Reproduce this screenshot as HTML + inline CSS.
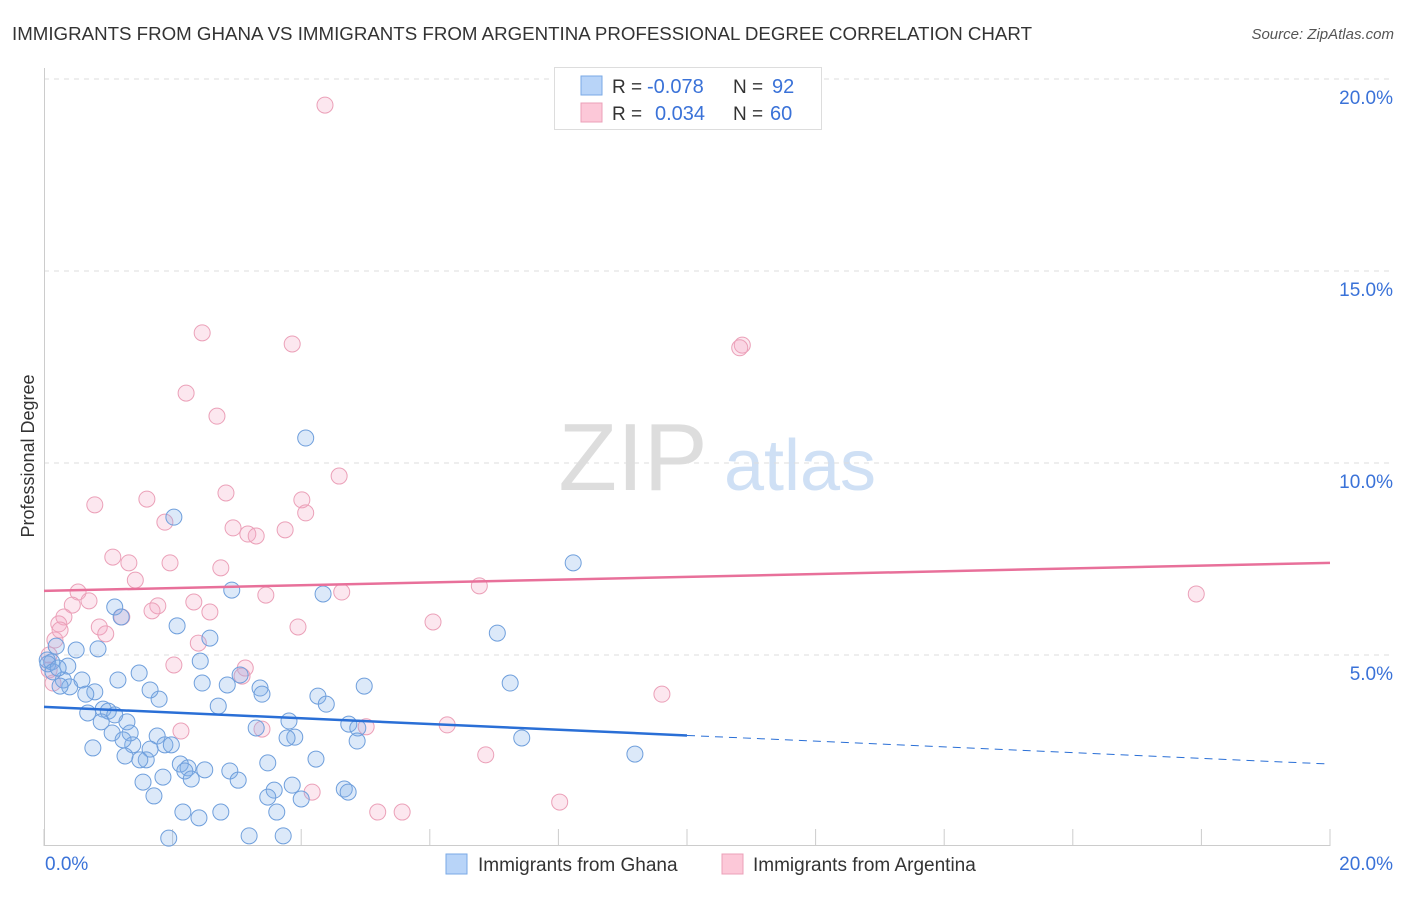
<!DOCTYPE html>
<html><head><meta charset="utf-8"><style>
body{margin:0;background:#fff;font-family:"Liberation Sans",sans-serif;}
svg text{font-family:"Liberation Sans",sans-serif;}
</style></head><body>
<svg id="chart" width="1406" height="892">
<text x="12" y="40" font-size="18" fill="#333" textLength="1020" lengthAdjust="spacingAndGlyphs">IMMIGRANTS FROM GHANA VS IMMIGRANTS FROM ARGENTINA PROFESSIONAL DEGREE CORRELATION CHART</text>
<text x="1394" y="39" font-size="15" fill="#555" font-style="italic" text-anchor="end">Source: ZipAtlas.com</text>
<g>
<text x="633" y="490" font-size="96" fill="#ddd" font-family="Liberation Serif" text-anchor="middle">ZIP</text>
<text x="800" y="490" font-size="72" fill="#cfe0f5" text-anchor="middle">atlas</text>
</g>
<g id="grid"></g>
<g id="axes"></g>
<g id="marks"></g>
<text transform="translate(34,456) rotate(-90)" font-size="18" fill="#333" text-anchor="middle">Professional Degree</text>
<g>
<rect x="554.5" y="67.5" width="267" height="62" fill="#fff" stroke="#ddd"/>
<rect x="581" y="76" width="21" height="19" fill="#b8d4f8" stroke="#7aa9e6"/>
<rect x="581" y="103" width="21" height="19" fill="#fcc8d8" stroke="#eba0b8"/>
<text x="612" y="93" font-size="19" fill="#333">R =</text>
<text x="647" y="93" font-size="20" fill="#3a72d8">-0.078</text>
<text x="733" y="93" font-size="19" fill="#333">N =</text>
<text x="772" y="93" font-size="20" fill="#3a72d8">92</text>
<text x="612" y="120" font-size="19" fill="#333">R =</text>
<text x="655" y="120" font-size="20" fill="#3a72d8">0.034</text>
<text x="733" y="120" font-size="19" fill="#333">N =</text>
<text x="770" y="120" font-size="20" fill="#3a72d8">60</text>
</g>
<g>
<rect x="446" y="854" width="21" height="20" fill="#b8d4f8" stroke="#7aa9e6"/>
<text x="478" y="871" font-size="19" fill="#333">Immigrants from Ghana</text>
<rect x="722" y="854" width="21" height="20" fill="#fcc8d8" stroke="#eba0b8"/>
<text x="753" y="871" font-size="19" fill="#333">Immigrants from Argentina</text>
</g>
</svg>
<script>
const yTicks=[5,10,15,20];
const yTickLabels=["5.0%","10.0%","15.0%","20.0%"];
const xTickVals=[0,2,4,6,8,10,12,14,16,18,20];
const xEndLabels=["0.0%","20.0%"];
const ghanaX=[4.07,2.02,8.23,2.92,4.34,1.10,1.20,2.07,7.05,2.58,0.84,0.50,0.19,0.05,0.12,0.37,2.43,1.48,3.05,1.15,0.59,0.30,0.40,0.25,2.46,2.85,7.25,4.98,3.36,3.39,4.26,4.39,0.79,0.65,1.79,2.71,0.92,0.68,1.00,1.29,0.89,3.81,4.74,4.88,1.06,1.34,3.30,1.76,3.90,3.78,4.87,1.88,1.98,1.65,1.38,0.76,1.26,7.43,9.19,4.23,1.59,2.12,3.48,2.24,2.19,2.89,1.85,2.29,3.02,1.54,3.86,3.58,4.67,4.73,1.71,3.48,4.00,2.16,2.75,2.41,3.62,1.94,3.19,3.72,0.06,0.14,0.22,1.10,2.50,1.49,1.23,1.65];
const ghanaY=[10.65,8.59,7.40,6.69,6.59,6.25,5.99,5.76,5.57,5.44,5.16,5.13,5.23,4.87,4.82,4.71,4.84,4.53,4.48,4.35,4.35,4.35,4.17,4.19,4.27,4.22,4.27,4.19,4.14,3.98,3.93,3.72,4.04,3.98,3.85,3.67,3.59,3.49,3.54,3.26,3.26,3.28,3.20,3.10,2.97,2.97,3.10,2.89,2.86,2.84,2.76,2.66,2.66,2.55,2.66,2.58,2.37,2.84,2.42,2.29,2.27,2.16,2.19,2.06,1.98,1.98,1.82,1.77,1.74,1.69,1.61,1.48,1.51,1.43,1.33,1.30,1.25,0.91,0.91,0.76,0.91,0.23,0.29,0.29,4.77,4.56,4.66,3.44,2.01,2.27,2.79,4.09];
const argX=[4.37,2.46,3.86,10.86,10.82,2.21,2.69,4.59,0.79,2.83,1.60,4.01,4.07,1.88,2.94,3.75,3.17,3.30,1.07,1.32,1.96,2.75,1.42,6.77,0.53,0.70,0.44,1.77,1.68,2.33,3.45,4.63,2.58,0.31,0.86,0.23,3.95,6.05,0.96,0.17,17.92,1.21,2.40,2.02,3.13,0.08,3.08,0.14,9.61,2.13,3.39,5.01,6.27,6.87,4.17,5.19,5.57,8.02,0.25,0.08];
const argY=[19.32,13.39,13.10,13.07,13.0,11.82,11.22,9.66,8.91,9.22,9.06,9.04,8.70,8.46,8.31,8.26,8.15,8.10,7.55,7.40,7.40,7.27,6.95,6.80,6.64,6.41,6.30,6.28,6.15,6.38,6.56,6.64,6.12,5.99,5.73,5.81,5.73,5.86,5.55,5.39,6.59,5.99,5.31,4.74,4.66,4.61,4.45,4.27,3.98,3.02,3.07,3.13,3.18,2.40,1.43,0.91,0.91,1.17,5.65,5.00];
const ghanaTrendY=[3.65,2.16];
const argTrendY=[6.67,7.40];
const trendX=[0,20];
const ghanaSolidEnd=10;

const NS="http://www.w3.org/2000/svg";
const X0=44,X1=1330,Y0=847,PX_PER=38.4;
const sx=v=>X0+(X1-X0)*v/20;
const sy=v=>Y0-v*PX_PER;
function mk(tag,attrs,parent){const e=document.createElementNS(NS,tag);for(const k in attrs)e.setAttribute(k,attrs[k]);parent.appendChild(e);return e;}
const grid=document.getElementById('grid'),axes=document.getElementById('axes'),marks=document.getElementById('marks');
yTicks.forEach((t,i)=>{
 const l=mk('line',{x1:X0,x2:1394,y1:sy(t),y2:sy(t),stroke:'#ddd','stroke-dasharray':'5,5'},grid);
 
 
 const tx=mk('text',{x:1393,y:sy(t)+25,'font-size':19,fill:'#3a72d8','text-anchor':'end'},grid);
 tx.textContent=yTickLabels[i];
 
 
});
const ax=mk('line',{x1:X0,x2:X1,y1:845.5,y2:845.5,stroke:'#ccc'},axes);


const ay=mk('line',{x1:44.5,x2:44.5,y1:68,y2:845,stroke:'#ccc'},axes);


xTickVals.forEach(v=>{
 const t=mk('line',{x1:sx(v),x2:sx(v),y1:829,y2:846,stroke:'#ccc'},axes);
 
 
});
[[0,'start',45],[20,'end',1393]].forEach((p,i)=>{
 const t=mk('text',{x:p[2],y:870,'font-size':19,fill:'#3a72d8','text-anchor':p[1]},axes);
 t.textContent=xEndLabels[i];
 
 
});
function pts(xs,ys,fill,stroke,name){
 xs.forEach((x,i)=>{
  const c=mk('circle',{cx:sx(x),cy:sy(ys[i]),r:8,fill:fill,stroke:stroke,'stroke-width':1},marks);
  
  
 });
}
pts(argX,argY,'rgba(244,170,196,0.28)','#eba0b8','argentina-point');
pts(ghanaX,ghanaY,'rgba(130,175,235,0.28)','#6f9fdc','ghana-point');
const interp=(arr,x)=>arr[0]+(arr[1]-arr[0])*(x-trendX[0])/(trendX[1]-trendX[0]);
const pl=mk('line',{x1:sx(trendX[0]),y1:sy(argTrendY[0]),x2:sx(trendX[1]),y2:sy(argTrendY[1]),stroke:'#e8709a','stroke-width':2.5},marks);


const bl=mk('line',{x1:sx(trendX[0]),y1:sy(ghanaTrendY[0]),x2:sx(ghanaSolidEnd),y2:sy(interp(ghanaTrendY,ghanaSolidEnd)),stroke:'#2a6fd6','stroke-width':2.5},marks);


const bd=mk('line',{x1:sx(ghanaSolidEnd),y1:sy(interp(ghanaTrendY,ghanaSolidEnd)),x2:sx(trendX[1]),y2:sy(ghanaTrendY[1]),stroke:'#2a6fd6','stroke-width':1,'stroke-dasharray':'8,6'},marks);


</script>
</body></html>
